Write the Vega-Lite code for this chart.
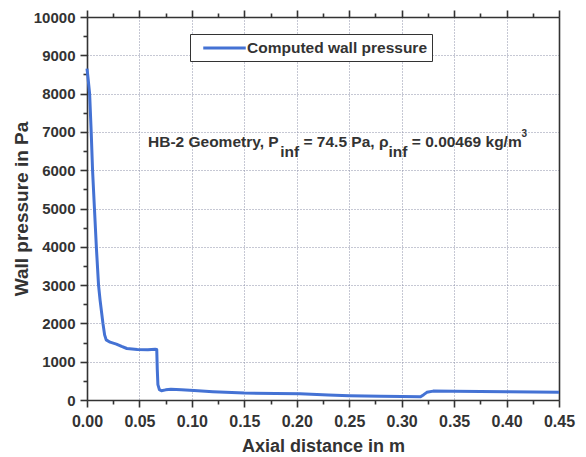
{
  "$schema": "https://vega.github.io/schema/vega-lite/v6.json",
  "width": 472,
  "height": 383,
  "autosize": {"type": "none"},
  "padding": {"left": 87, "top": 17, "right": 27, "bottom": 57},
  "background": "white",
  "config": {
    "view": {"stroke": null},
    "axis": {
      "labelFont": "Liberation Sans",
      "titleFont": "Liberation Sans",
      "labelFontWeight": "bold",
      "titleFontWeight": "bold",
      "labelColor": "#333333",
      "titleColor": "#333333",
      "domainColor": "#333333",
      "tickColor": "#333333",
      "domainWidth": 1.6,
      "tickWidth": 1.6,
      "gridColor": "#8c90a8",
      "gridDash": [1, 2],
      "gridWidth": 1
    }
  },
  "datasets": {
    "curve": [
      {"x": 0.0, "p": 8650},
      {"x": 0.001, "p": 8400},
      {"x": 0.0025, "p": 8000},
      {"x": 0.004, "p": 7000},
      {"x": 0.0053, "p": 6000},
      {"x": 0.0071, "p": 5000},
      {"x": 0.0089, "p": 4000},
      {"x": 0.011, "p": 3000},
      {"x": 0.0125, "p": 2600},
      {"x": 0.0152, "p": 2000},
      {"x": 0.0168, "p": 1700},
      {"x": 0.0183, "p": 1570},
      {"x": 0.022, "p": 1510},
      {"x": 0.028, "p": 1460},
      {"x": 0.033, "p": 1400},
      {"x": 0.038, "p": 1345},
      {"x": 0.048, "p": 1320},
      {"x": 0.058, "p": 1310},
      {"x": 0.065, "p": 1325},
      {"x": 0.0665, "p": 1320},
      {"x": 0.067, "p": 800},
      {"x": 0.0676, "p": 400},
      {"x": 0.069, "p": 270},
      {"x": 0.071, "p": 240},
      {"x": 0.075, "p": 265},
      {"x": 0.08, "p": 280},
      {"x": 0.09, "p": 268},
      {"x": 0.102, "p": 245},
      {"x": 0.12, "p": 215},
      {"x": 0.15, "p": 182},
      {"x": 0.18, "p": 170},
      {"x": 0.203, "p": 160},
      {"x": 0.23, "p": 130},
      {"x": 0.25, "p": 112},
      {"x": 0.28, "p": 100},
      {"x": 0.3, "p": 90},
      {"x": 0.318, "p": 86},
      {"x": 0.321, "p": 140},
      {"x": 0.324, "p": 200},
      {"x": 0.33, "p": 232},
      {"x": 0.35, "p": 226},
      {"x": 0.4, "p": 215},
      {"x": 0.45, "p": 205}
    ],
    "note": [
      {"kind": "main", "x": 0.05815, "y": 6598, "label": "HB-2 Geometry, P"},
      {"kind": "sub", "x": 0.1842, "y": 6352, "label": "inf"},
      {"kind": "main", "x": 0.2064, "y": 6598, "label": "= 74.5 Pa, ρ"},
      {"kind": "sub", "x": 0.2875, "y": 6352, "label": "inf"},
      {"kind": "main", "x": 0.3097, "y": 6598, "label": "= 0.00469 kg/m"},
      {"kind": "sup", "x": 0.4143, "y": 6875, "label": "3"}
    ]
  },
  "layer": [
    {
      "data": {"name": "curve"},
      "mark": {"type": "line", "strokeWidth": 3, "strokeJoin": "round"},
      "encoding": {
        "x": {
          "field": "x",
          "type": "quantitative",
          "scale": {"domain": [0, 0.45], "nice": false, "zero": false},
          "axis": {
            "orient": "bottom",
            "values": [0, 0.025, 0.05, 0.075, 0.1, 0.125, 0.15, 0.175, 0.2, 0.225, 0.25, 0.275, 0.3, 0.325, 0.35, 0.375, 0.4, 0.425, 0.45],
            "format": ".2f",
            "labelExpr": "round(datum.value * 1000) % 50 === 0 ? datum.label : ''",
            "tickSize": {"condition": {"test": "round(datum.value * 1000) % 50 === 0", "value": 7}, "value": 4},
            "grid": true,
            "gridOpacity": {"condition": {"test": "round(datum.value * 1000) % 50 === 0", "value": 1}, "value": 0},
            "labelFontSize": 16,
            "labelPadding": 6,
            "labelFlush": false,
            "labelOverlap": false,
            "title": "Axial distance in m",
            "titleFontSize": 18,
            "titlePadding": 8
          }
        },
        "y": {
          "field": "p",
          "type": "quantitative",
          "scale": {"domain": [0, 10000], "nice": false},
          "axis": {
            "orient": "left",
            "values": [0, 500, 1000, 1500, 2000, 2500, 3000, 3500, 4000, 4500, 5000, 5500, 6000, 6500, 7000, 7500, 8000, 8500, 9000, 9500, 10000],
            "format": "d",
            "labelExpr": "datum.value % 1000 === 0 ? datum.label : ''",
            "tickSize": {"condition": {"test": "datum.value % 1000 === 0", "value": 7}, "value": 4},
            "grid": true,
            "gridOpacity": {"condition": {"test": "datum.value % 1000 === 0", "value": 1}, "value": 0},
            "labelFontSize": 15,
            "labelPadding": 5,
            "labelOverlap": false,
            "labelFlush": false,
            "title": "Wall pressure in Pa",
            "titleFontSize": 19,
            "titlePadding": 2
          }
        },
        "color": {
          "datum": "Computed wall pressure",
          "type": "nominal",
          "scale": {"range": ["#4472D4"]},
          "legend": {
            "title": null,
            "orient": "none",
            "legendX": 103,
            "legendY": 17,
            "fillColor": "white",
            "strokeColor": "#333333",
            "padding": 4,
            "symbolType": "M-2.5,0H2.5",
            "symbolSize": 289,
            "symbolOffset": 20.5,
            "symbolStrokeWidth": 3,
            "labelFont": "Liberation Sans",
            "labelFontSize": 15.5,
            "labelFontWeight": "bold",
            "labelColor": "#333333",
            "labelOffset": 12.5,
            "labelLimit": 400
          }
        }
      }
    },
    {
      "data": {"name": "note"},
      "transform": [{"filter": "datum.kind === 'main'"}],
      "mark": {"type": "text", "align": "left", "baseline": "alphabetic", "font": "Liberation Sans", "fontWeight": "bold", "fontSize": 15.5, "color": "#333333"},
      "encoding": {
        "x": {
          "field": "x",
          "type": "quantitative",
          "axis": {
            "orient": "top",
            "values": [0, 0.025, 0.05, 0.075, 0.1, 0.125, 0.15, 0.175, 0.2, 0.225, 0.25, 0.275, 0.3, 0.325, 0.35, 0.375, 0.4, 0.425, 0.45],
            "labels": false,
            "grid": false,
            "title": null,
            "tickSize": {"condition": {"test": "round(datum.value * 1000) % 50 === 0", "value": 7}, "value": 4}
          }
        },
        "y": {
          "field": "y",
          "type": "quantitative",
          "axis": {"orient": "right", "labels": false, "ticks": false, "grid": false, "title": null}
        },
        "text": {"field": "label"}
      }
    },
    {
      "data": {"name": "note"},
      "transform": [{"filter": "datum.kind === 'sub'"}],
      "mark": {"type": "text", "align": "left", "baseline": "alphabetic", "font": "Liberation Sans", "fontWeight": "bold", "fontSize": 15.5, "color": "#333333"},
      "encoding": {
        "x": {"field": "x", "type": "quantitative", "axis": null},
        "y": {"field": "y", "type": "quantitative", "axis": null},
        "text": {"field": "label"}
      }
    },
    {
      "data": {"name": "note"},
      "transform": [{"filter": "datum.kind === 'sup'"}],
      "mark": {"type": "text", "align": "left", "baseline": "alphabetic", "font": "Liberation Sans", "fontWeight": "bold", "fontSize": 10, "color": "#333333"},
      "encoding": {
        "x": {"field": "x", "type": "quantitative", "axis": null},
        "y": {"field": "y", "type": "quantitative", "axis": null},
        "text": {"field": "label"}
      }
    }
  ],
  "resolve": {"axis": {"x": "independent", "y": "independent"}}
}
